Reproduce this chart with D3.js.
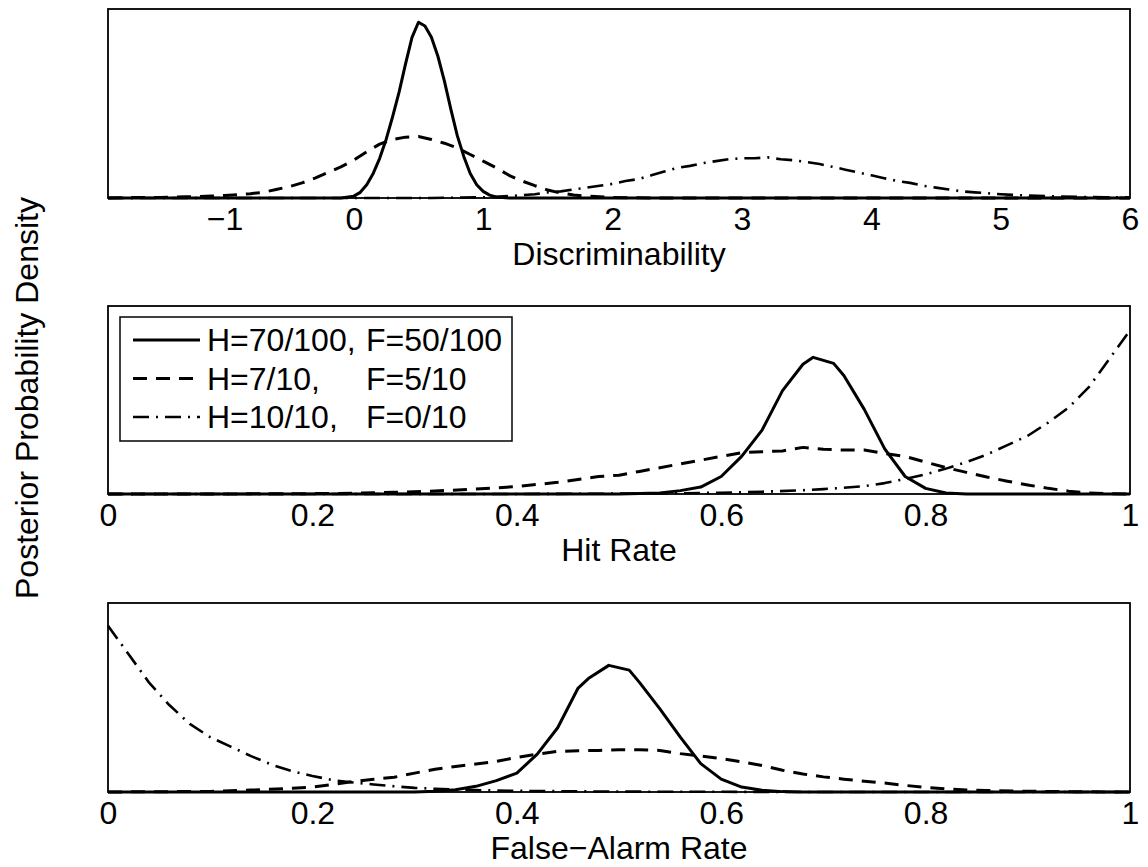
<!DOCTYPE html>
<html>
<head>
<meta charset="utf-8">
<script src="https://cdn.jsdelivr.net/npm/d3@7"></script>
<style>
  body { margin: 0; background: #fff; }
  text { font-family: "Liberation Sans", Arial, Helvetica, sans-serif; fill: #000; }
</style>
</head>
<body>
<svg id="chart"></svg>
<script>
// ---- data (heights relative to panel top) ----

// Discriminability panel
var dTicks = [-1, 0, 1, 2, 3, 4, 5, 6];
var dSolidX = [-1.9, -0.1, 0, 0.05, 0.1, 0.15, 0.2, 0.25, 0.3, 0.35, 0.4, 0.45, 0.5, 0.55, 0.6, 0.65, 0.7, 0.75, 0.8, 0.85, 0.9, 0.95, 1.0, 1.05, 1.1, 1.2, 6];
var dSolidY = [0, 0, 0.01, 0.03, 0.07, 0.13, 0.21, 0.31, 0.43, 0.56, 0.71, 0.85, 0.93, 0.91, 0.85, 0.75, 0.62, 0.47, 0.33, 0.22, 0.13, 0.07, 0.035, 0.015, 0.005, 0, 0];
var dDashX = [-1.9, -1.8, -1.7, -1.6, -1.5, -1.4, -1.3, -1.2, -1.1, -1.0, -0.9, -0.8, -0.7, -0.6, -0.5, -0.4, -0.3, -0.2, -0.1, 0, 0.1, 0.2, 0.3, 0.4, 0.5, 0.6, 0.7, 0.8, 0.9, 1.0, 1.1, 1.2, 1.3, 1.4, 1.5, 1.6, 1.7, 1.8, 1.9, 2.0, 2.2, 2.4, 6];
var dDashY = [0, 0.001, 0.002, 0.002, 0.003, 0.004, 0.006, 0.008, 0.01, 0.013, 0.018, 0.023, 0.03, 0.045, 0.06, 0.08, 0.105, 0.135, 0.165, 0.2, 0.245, 0.285, 0.31, 0.322, 0.325, 0.31, 0.29, 0.265, 0.23, 0.195, 0.16, 0.12, 0.09, 0.065, 0.042, 0.026, 0.016, 0.01, 0.006, 0.003, 0.001, 0, 0];
var dDotX = [-1.9, 0.6, 0.8, 1.0, 1.1, 1.2, 1.3, 1.4, 1.5, 1.6, 1.7, 1.8, 1.9, 2.0, 2.1, 2.2, 2.3, 2.4, 2.5, 2.6, 2.7, 2.8, 2.9, 3.0, 3.1, 3.2, 3.3, 3.4, 3.5, 3.6, 3.7, 3.8, 3.9, 4.0, 4.1, 4.2, 4.3, 4.4, 4.5, 4.6, 4.7, 4.8, 4.9, 5.0, 5.2, 5.4, 5.6, 5.8, 6.0];
var dDotY = [0, 0, 0.002, 0.004, 0.006, 0.01, 0.015, 0.02, 0.03, 0.035, 0.045, 0.055, 0.065, 0.075, 0.09, 0.1, 0.12, 0.14, 0.16, 0.17, 0.185, 0.195, 0.205, 0.21, 0.21, 0.215, 0.205, 0.2, 0.19, 0.18, 0.165, 0.15, 0.135, 0.12, 0.105, 0.09, 0.08, 0.065, 0.055, 0.045, 0.035, 0.03, 0.025, 0.02, 0.013, 0.009, 0.006, 0.004, 0.003];

// Hit rate panel
var rateTicks = [0, 0.2, 0.4, 0.6, 0.8, 1];
var hSolidX = [0, 0.5, 0.52, 0.54, 0.56, 0.58, 0.6, 0.62, 0.64, 0.66, 0.68, 0.69, 0.71, 0.72, 0.74, 0.76, 0.78, 0.8, 0.82, 0.84, 1];
var hSolidY = [0, 0, 0.002, 0.005, 0.018, 0.037, 0.093, 0.2, 0.34, 0.55, 0.69, 0.727, 0.695, 0.63, 0.45, 0.24, 0.093, 0.03, 0.005, 0, 0];
var hDashX = [0, 0.1, 0.2, 0.24, 0.28, 0.32, 0.36, 0.4, 0.44, 0.48, 0.5, 0.52, 0.54, 0.56, 0.58, 0.6, 0.62, 0.64, 0.66, 0.68, 0.7, 0.72, 0.74, 0.76, 0.78, 0.8, 0.82, 0.84, 0.86, 0.88, 0.9, 0.92, 0.94, 0.96, 0.98, 1];
var hDashY = [0, 0, 0.002, 0.004, 0.009, 0.016, 0.026, 0.04, 0.062, 0.093, 0.1, 0.12, 0.14, 0.16, 0.18, 0.2, 0.22, 0.225, 0.229, 0.248, 0.238, 0.234, 0.234, 0.215, 0.2, 0.17, 0.14, 0.115, 0.09, 0.068, 0.048, 0.03, 0.015, 0.005, 0.001, 0];
var hDotX = [0, 0.4, 0.5, 0.56, 0.6, 0.64, 0.68, 0.7, 0.72, 0.74, 0.76, 0.78, 0.8, 0.82, 0.84, 0.86, 0.88, 0.9, 0.92, 0.94, 0.96, 0.98, 1];
var hDotY = [0, 0, 0.002, 0.004, 0.007, 0.012, 0.02, 0.026, 0.033, 0.042, 0.058, 0.08, 0.105, 0.135, 0.17, 0.21, 0.26, 0.31, 0.38, 0.46, 0.57, 0.72, 0.87];

// False-alarm rate panel
var fSolidX = [0, 0.3, 0.32, 0.34, 0.36, 0.38, 0.4, 0.42, 0.44, 0.46, 0.47, 0.49, 0.51, 0.52, 0.54, 0.56, 0.58, 0.6, 0.62, 0.64, 0.66, 0.68, 1];
var fSolidY = [0, 0, 0.004, 0.012, 0.03, 0.06, 0.1, 0.2, 0.34, 0.55, 0.6, 0.67, 0.645, 0.58, 0.44, 0.29, 0.15, 0.068, 0.026, 0.009, 0.002, 0, 0];
var fDashX = [0, 0.1, 0.14, 0.18, 0.2, 0.22, 0.24, 0.26, 0.28, 0.3, 0.32, 0.34, 0.36, 0.38, 0.4, 0.42, 0.44, 0.46, 0.48, 0.5, 0.52, 0.54, 0.56, 0.58, 0.6, 0.62, 0.64, 0.66, 0.68, 0.7, 0.72, 0.74, 0.76, 0.78, 0.8, 0.82, 0.84, 0.86, 0.9, 0.95, 1];
var fDashY = [0, 0.003, 0.01, 0.02, 0.026, 0.04, 0.055, 0.067, 0.078, 0.1, 0.12, 0.135, 0.148, 0.162, 0.183, 0.2, 0.215, 0.218, 0.22, 0.223, 0.223, 0.22, 0.203, 0.19, 0.177, 0.16, 0.14, 0.115, 0.095, 0.08, 0.068, 0.057, 0.047, 0.035, 0.024, 0.016, 0.011, 0.008, 0.004, 0.001, 0];
var fDotX = [0, 0.02, 0.04, 0.06, 0.08, 0.1, 0.12, 0.14, 0.16, 0.18, 0.2, 0.22, 0.24, 0.26, 0.28, 0.3, 0.32, 0.36, 0.4, 0.45, 0.5, 0.6, 0.7, 1];
var fDotY = [0.88, 0.73, 0.58, 0.46, 0.36, 0.29, 0.24, 0.19, 0.145, 0.11, 0.085, 0.063, 0.05, 0.04, 0.03, 0.022, 0.017, 0.01, 0.006, 0.004, 0.002, 0.001, 0, 0];

var legendLabels = [["H=70/100,", "F=50/100"], ["H=7/10,", "F=5/10"], ["H=10/10,", "F=0/10"]];

// ---- layout ----
var svgWidth = 1148, svgHeight = 867;
var boxLeft = 108, boxRight = 1130;
var fontSize = 32;
var lineStyles = [
  { dash: null, width: 3 },
  { dash: "14,9", width: 3 },
  { dash: "16,7,2,7", width: 2.6 }
];

var panels = [
  { top: 9, bottom: 198, domain: [-1.9, 6], ticks: dTicks, label: "Discriminability",
    series: [[dSolidX, dSolidY], [dDashX, dDashY], [dDotX, dDotY]] },
  { top: 306, bottom: 494, domain: [0, 1], ticks: rateTicks, label: "Hit Rate",
    series: [[hSolidX, hSolidY], [hDashX, hDashY], [hDotX, hDotY]] },
  { top: 603, bottom: 792, domain: [0, 1], ticks: rateTicks, label: "False\u2212Alarm Rate",
    series: [[fSolidX, fSolidY], [fDashX, fDashY], [fDotX, fDotY]] }
];

var svg = d3.select("#chart")
  .attr("width", svgWidth)
  .attr("height", svgHeight)
  .style("font-size", fontSize + "px");

svg.append("rect").attr("width", svgWidth).attr("height", svgHeight).attr("fill", "#fff");

panels.forEach(function (p) {
  var x = d3.scaleLinear(p.domain, [boxLeft, boxRight]);
  var y = d3.scaleLinear([0, 1], [p.bottom, p.top]);

  var g = svg.append("g");

  // curves
  p.series.forEach(function (s, i) {
    var pts = s[0].map(function (v, k) { return [v, s[1][k]]; });
    var line = d3.line()
      .x(function (d) { return x(d[0]); })
      .y(function (d) { return y(d[1]); });
    g.append("path")
      .datum(pts)
      .attr("d", line)
      .attr("fill", "none")
      .attr("stroke", "#000")
      .attr("stroke-width", lineStyles[i].width)
      .attr("stroke-linejoin", "round")
      .attr("stroke-dasharray", lineStyles[i].dash);
  });

  // box
  g.append("rect")
    .attr("x", boxLeft).attr("y", p.top)
    .attr("width", boxRight - boxLeft).attr("height", p.bottom - p.top)
    .attr("fill", "none").attr("stroke", "#000").attr("stroke-width", 1.8);

  // x axis labels
  var xAxis = d3.axisBottom(x)
    .tickValues(p.ticks)
    .tickSize(0)
    .tickPadding(9)
    .tickFormat(function (d) { return String(d).replace("-", "\u2212"); });
  var ax = g.append("g")
    .attr("transform", "translate(0," + p.bottom + ")")
    .call(xAxis);
  ax.select(".domain").remove();
  ax.selectAll("text")
    .attr("font-size", fontSize)
    .attr("font-family", "Liberation Sans, Arial, sans-serif")
    .attr("fill", "#000");

  g.append("text")
    .attr("x", (boxLeft + boxRight) / 2)
    .attr("y", p.bottom + 67)
    .attr("text-anchor", "middle")
    .text(p.label);
});

// legend in the hit-rate panel
var legX = 120, legY = 317, legW = 392, legH = 124;
var legend = svg.append("g");
legend.append("rect")
  .attr("x", legX).attr("y", legY).attr("width", legW).attr("height", legH)
  .attr("fill", "#fff").attr("stroke", "#000").attr("stroke-width", 1.5);
legendLabels.forEach(function (lab, i) {
  var cy = legY + 23 + i * 38.5;
  legend.append("line")
    .attr("x1", legX + 13).attr("x2", legX + 80)
    .attr("y1", cy).attr("y2", cy)
    .attr("stroke", "#000")
    .attr("stroke-width", lineStyles[i].width)
    .attr("stroke-dasharray", lineStyles[i].dash);
  legend.append("text").attr("x", legX + 87).attr("y", cy + 11).text(lab[0]);
  legend.append("text").attr("x", legX + 246).attr("y", cy + 11).text(lab[1]);
});

// shared y label
svg.append("text")
  .attr("transform", "translate(38,398) rotate(-90)")
  .attr("text-anchor", "middle")
  .text("Posterior Probability Density");
</script>
</body>
</html>
